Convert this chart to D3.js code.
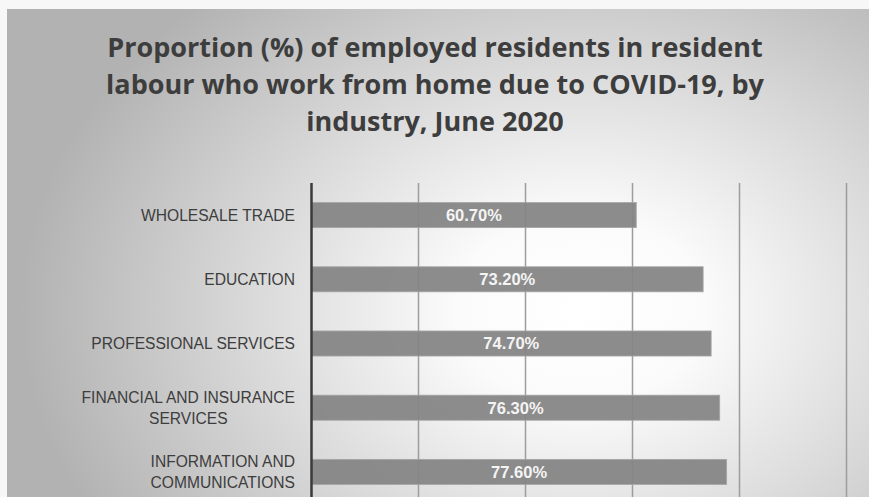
<!DOCTYPE html>
<html>
<head>
<meta charset="utf-8">
<script src="https://cdn.jsdelivr.net/npm/d3@7"></script>
<style>
  html, body { margin: 0; padding: 0; background: #f7f7f7; overflow: hidden; }
  svg { display: block; }
</style>
</head>
<body>
<svg id="chart" width="869" height="497"></svg>
<script>
const titleLines = [
  "Proportion (%) of employed residents in resident",
  "labour who work from home due to COVID-19, by",
  "industry, June 2020"
];
const categories = [
  ["WHOLESALE TRADE"],
  ["EDUCATION"],
  ["PROFESSIONAL SERVICES"],
  ["FINANCIAL AND INSURANCE", "SERVICES"],
  ["INFORMATION AND", "COMMUNICATIONS"]
];
const values = [60.7, 73.2, 74.7, 76.3, 77.6];
const xTicks = [0, 20, 40, 60, 80, 100];

const W = 869, H = 497;
const svg = d3.select("#chart");

const defs = svg.append("defs");
const grad = defs.append("radialGradient")
  .attr("id", "bg").attr("gradientUnits", "userSpaceOnUse")
  .attr("cx", 580).attr("cy", 310).attr("r", 560)
  .attr("gradientTransform", "translate(580,310) scale(1,0.75) translate(-580,-310)");
grad.append("stop").attr("offset", "0").attr("stop-color", "#ffffff");
grad.append("stop").attr("offset", "0.22").attr("stop-color", "#fbfbfb");
grad.append("stop").attr("offset", "0.6").attr("stop-color", "#d8d8d8");
grad.append("stop").attr("offset", "1").attr("stop-color", "#b2b2b2");

svg.append("rect").attr("x", 7).attr("y", 9).attr("width", W - 7).attr("height", H - 9)
  .attr("fill", "url(#bg)");

// Title
svg.append("g").selectAll("text").data(titleLines).join("text")
  .attr("x", 435).attr("y", (d, i) => 57 + i * 37)
  .attr("text-anchor", "middle")
  .attr("font-family", "'Open Sans', sans-serif")
  .attr("font-weight", 700)
  .attr("font-size", 27)
  .attr("fill", "#3d3d3d")
  .text(d => d);

const x = d3.scaleLinear().domain([0, 100]).range([311.5, 846.5]);
const y = d3.scaleBand().domain(d3.range(categories.length))
  .range([183, 504]).paddingInner(0.61).paddingOuter(0.305);

// grid lines
svg.append("g").selectAll("line").data(xTicks.slice(1)).join("line")
  .attr("x1", d => x(d)).attr("x2", d => x(d))
  .attr("y1", 183).attr("y2", H)
  .attr("stroke", "#9d9d9d").attr("stroke-width", 1.5);

// bars
svg.append("g").selectAll("rect").data(values).join("rect")
  .attr("x", x(0)).attr("y", (d, i) => y(i))
  .attr("width", d => x(d) - x(0)).attr("height", y.bandwidth())
  .attr("fill", "#858585").attr("fill-opacity", 0.94)
  .attr("stroke", "#a5a5a5").attr("stroke-width", 0.8);

// value labels
svg.append("g").selectAll("text").data(values).join("text")
  .attr("x", d => (x(d) + x(0)) / 2)
  .attr("y", (d, i) => y(i) + y.bandwidth() / 2)
  .attr("dy", "0.36em")
  .attr("text-anchor", "middle")
  .attr("font-family", "'Liberation Sans', Arial, sans-serif")
  .attr("font-weight", 700).attr("font-size", 16.5)
  .attr("fill", "#f4f4f4")
  .text(d => d.toFixed(2) + "%");

// axis line
svg.append("line").attr("x1", x(0)).attr("x2", x(0)).attr("y1", 183).attr("y2", H)
  .attr("stroke", "#3a3a3a").attr("stroke-width", 2.5);

// category labels (multi-line blocks centred, block right-aligned at 295)
const lab = svg.append("g").selectAll("text").data(categories).join("text")
  .attr("text-anchor", "middle")
  .attr("font-family", "'Liberation Sans', Arial, sans-serif")
  .attr("font-size", 15.6)
  .attr("fill", "#3d3d3d");
lab.each(function(lines, i) {
  const cy = y(i) + y.bandwidth() / 2;
  const n = lines.length;
  const t = d3.select(this);
  const sp = t.selectAll("tspan").data(lines).join("tspan")
    .attr("y", (d, j) => cy + (j - (n - 1) / 2) * 21)
    .attr("dy", "0.36em")
    .text(d => d);
  let maxW = 0;
  sp.each(function() { maxW = Math.max(maxW, this.getComputedTextLength()); });
  sp.attr("x", 295 - maxW / 2);
});
</script>
</body>
</html>
